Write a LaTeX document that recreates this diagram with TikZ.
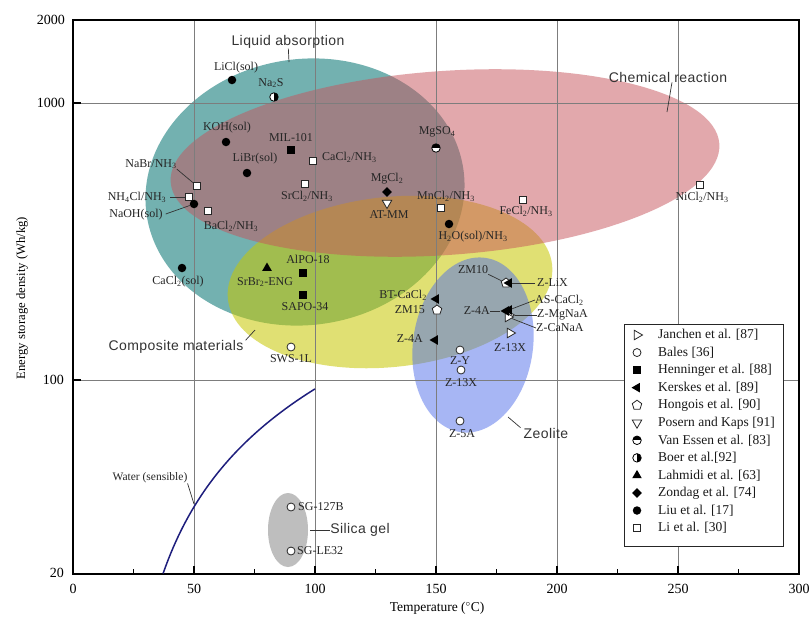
\documentclass[tikz,border=0pt]{standalone}
\usepackage{fontspec}
\setmainfont{Liberation Serif}
\newfontfamily\regfont{Liberation Sans}[LetterSpace=3.0]
\usetikzlibrary{shapes.geometric}
\newcommand{\sbs}[1]{\textsubscript{#1}}
\definecolor{tealc}{RGB}{30,130,128}
\definecolor{pinkc}{RGB}{199,83,91}
\definecolor{yellc}{RGB}{200,200,0}
\definecolor{bluec}{RGB}{80,110,235}
\definecolor{grayc}{RGB}{190,190,190}
\definecolor{navyc}{RGB}{30,30,125}
\definecolor{gridc}{RGB}{125,125,125}
\begin{document}
\begin{tikzpicture}[x=1pt,y=-1pt,
 lbl/.style={font=\fontsize{12}{13}\selectfont, inner sep=0pt, text=black!85},
 reg/.style={font=\regfont\fontsize{14}{15}\selectfont, inner sep=0pt, text=black!80},
 leg/.style={font=\fontsize{13.5}{14}\selectfont, inner sep=0pt, anchor=west, text=black!90},
 tick/.style={font=\fontsize{14}{15}\selectfont, inner sep=0pt},
 lead/.style={draw=black!80, line width=0.7pt},
 fc/.style={circle, fill=black, minimum size=8.5pt, inner sep=0pt},
 oc/.style={circle, draw=black!85, fill=white, line width=0.8pt, minimum size=8pt, inner sep=0pt},
 fsq/.style={rectangle, fill=black, minimum size=7.5pt, inner sep=0pt},
 osq/.style={rectangle, draw=black!85, fill=white, line width=0.8pt, minimum size=7pt, inner sep=0pt},
 ftri/.style={regular polygon, regular polygon sides=3, fill=black, minimum size=11pt, inner sep=0pt},
 fltri/.style={ftri, shape border rotate=90},
 ortri/.style={regular polygon, regular polygon sides=3, draw=black!85, fill=white, line width=0.8pt, minimum size=11pt, inner sep=0pt, shape border rotate=-90},
 odtri/.style={regular polygon, regular polygon sides=3, draw=black!85, fill=white, line width=0.8pt, minimum size=11pt, inner sep=0pt, shape border rotate=180},
 fdia/.style={diamond, fill=black, minimum size=10pt, inner sep=0pt},
 opent/.style={regular polygon, regular polygon sides=5, draw=black!85, fill=white, line width=0.8pt, minimum size=10pt, inner sep=0pt},
 boer/.style={circle, draw=black, fill=white, line width=0.8pt, minimum size=8.5pt, inner sep=0pt,
   path picture={\fill[black] (path picture bounding box.north) rectangle (path picture bounding box.south east);}},
 vess/.style={circle, draw=black, fill=white, line width=0.8pt, minimum size=8.5pt, inner sep=0pt,
   path picture={\fill[black] (path picture bounding box.north west) rectangle (path picture bounding box.east);}}
]
\useasboundingbox (0,0) rectangle (811,616);
\fill[white] (0,0) rectangle (811,616);

% regions
\fill[tealc, fill opacity=0.62, rotate around={8:(305,192)}] (305,192) ellipse [x radius=160pt, y radius=133pt];
\fill[yellc, fill opacity=0.55, rotate around={6:(390,282)}] (390,282) ellipse [x radius=163pt, y radius=85pt];
\fill[pinkc, fill opacity=0.5, rotate around={4:(445,163)}] (445,163) ellipse [x radius=275pt, y radius=92pt];
\fill[bluec, fill opacity=0.5, rotate around={-8:(473,345)}] (473,345) ellipse [x radius=60pt, y radius=88pt];
\fill[grayc] (288,530) ellipse [x radius=20pt, y radius=37pt];

% grid
\foreach \gx in {194,315,436,557,678} \draw[gridc, line width=0.7pt] (\gx,20) -- (\gx,574);
\foreach \gy in {103,380} \draw[gridc, line width=0.7pt] (73,\gy) -- (799,\gy);

% ticks
\foreach \tx in {133.5,254.5,375.5,496.5,617.5,738.5} \draw[line width=1.2pt] (\tx,574) -- (\tx,569);
\foreach \tx in {194,315,436,557,678} \draw[line width=1.4pt] (\tx,574) -- (\tx,566);
\foreach \ty in {103,380} \draw[line width=1.4pt] (73,\ty) -- (81,\ty);
\draw[line width=1.4pt] (73,20) rectangle (799,574);

% tick labels
\node[tick] (x0) at (73,589) {0};
\node[tick] (x50) at (194,589) {50};
\node[tick] (x100) at (315,589) {100};
\node[tick] (x150) at (436,589) {150};
\node[tick] (x200) at (557,589) {200};
\node[tick] (x250) at (678,589) {250};
\node[tick] (x300) at (799,589) {300};
\node[tick, anchor=east] (y2000) at (65,20) {2000};
\node[tick, anchor=east] (y1000) at (65,103) {1000};
\node[tick, anchor=east] (y100) at (64,380) {100};
\node[tick, anchor=east] (y20) at (64,573) {20};
\node[font=\fontsize{12.7}{13}\selectfont, rotate=90, inner sep=0pt] (ylab) at (22,298) {Energy storage density (Wh/kg)};
\node[font=\fontsize{13.5}{14}\selectfont, inner sep=0pt] (xlab) at (437,608) {Temperature ($^{\circ}$C)};

% water sensible curve
\draw[navyc, line width=1.5pt] plot[domain=37.23:100, samples=60] ({73+2.42*\x}, {380-277*log10(1.161*(\x-20)/100)});

% region labels
\node[reg] (rLiq) at (288,42) {Liquid absorption};
\coordinate (cLiq) at (289,62);
\draw[lead] (rLiq) -- (cLiq);
\node[reg] (rChem) at (668,77) {Chemical reaction};
\coordinate (cChem) at (667,112);
\draw[lead] ([xshift=4pt]rChem.south) -- (cChem);
\node[reg] (rComp) at (176,347) {Composite materials};
\coordinate (cComp) at (255,330);
\draw[lead] ([xshift=2pt]rComp.north east) -- (cComp);
\node[reg] (rZeo) at (546,433) {Zeolite};
\coordinate (cZeo) at (508,417);
\draw[lead] ([xshift=-3pt]rZeo.north west) -- (cZeo);
\node[reg] (rSil) at (360,530) {Silica gel};
\coordinate (cSil) at (310,530);
\draw[lead] (rSil.west) -- (cSil);
\node[lbl, font=\fontsize{11.5}{12}\selectfont] (rWat) at (150,478) {Water (sensible)};
\coordinate (cWat) at (194,504);
\draw[lead] (rWat.south east) -- (cWat);

% data points
\node[fc] (mLiCl) at (232,80) {};
\node[lbl] (tLiCl) at (236,68) {LiCl(sol)};
\node[boer] (mNaS) at (274,97) {};
\node[lbl] (tNaS) at (271,83) {Na\sbs{2}S};
\node[fc] (mKOH) at (226,142) {};
\node[lbl] (tKOH) at (227,128) {KOH(sol)};
\node[fsq] (mMIL) at (291,150) {};
\node[lbl] (tMIL) at (291,138) {MIL-101};
\node[fc] (mLiBr) at (247,173) {};
\node[lbl] (tLiBr) at (255,159) {LiBr(sol)};
\node[osq] (mCaN) at (313,161) {};
\node[lbl, anchor=west] (tCaN) at (322,157) {CaCl\sbs{2}/NH\sbs{3}};
\node[osq] (mNaBr) at (197,186) {};
\node[lbl] (tNaBr) at (151,164) {NaBr/NH\sbs{3}};
\draw[lead] (tNaBr.south east) -- (mNaBr);
\node[osq] (mNH4) at (189,197) {};
\node[lbl] (tNH4) at (137,197) {NH\sbs{4}Cl/NH\sbs{3}};
\draw[lead, shorten <=4pt] (tNH4.east) -- (mNH4);
\node[fc] (mNaOH) at (194,204) {};
\node[lbl] (tNaOH) at (136,215) {NaOH(sol)};
\draw[lead, shorten <=3pt] (tNaOH.east) -- (mNaOH);
\node[osq] (mBa) at (208,211) {};
\node[lbl] (tBa) at (231,226) {BaCl\sbs{2}/NH\sbs{3}};
\node[osq] (mSr) at (305,184) {};
\node[lbl] (tSr) at (307,196) {SrCl\sbs{2}/NH\sbs{3}};
\node[fdia] (mMg) at (387,192) {};
\node[lbl] (tMg) at (387,179) {MgCl\sbs{2}};
\node[odtri] (mAT) at (387,203) {};
\node[lbl] (tAT) at (389,215) {AT-MM};
\node[osq] (mMn) at (441,208) {};
\node[lbl] (tMn) at (446,196) {MnCl\sbs{2}/NH\sbs{3}};
\node[osq] (mFe) at (523,200) {};
\node[lbl] (tFe) at (526,211) {FeCl\sbs{2}/NH\sbs{3}};
\node[osq] (mNi) at (700,185) {};
\node[lbl] (tNi) at (702,197) {NiCl\sbs{2}/NH\sbs{3}};
\node[vess] (mMgSO) at (436,148) {};
\node[lbl] (tMgSO) at (437,132) {MgSO\sbs{4}};
\node[fc] (mH2O) at (449,224) {};
\node[lbl] (tH2O) at (473,237) {H\sbs{2}O(sol)/NH\sbs{3}};
\node[fc] (mCaS) at (182,268) {};
\node[lbl] (tCaS) at (178,282) {CaCl\sbs{2}(sol)};
\node[ftri] (mSrBr) at (267,268) {};
\node[lbl] (tSrBr) at (265,282) {SrBr\sbs{2}-ENG};
\node[fsq] (mAl) at (303,273) {};
\node[lbl] (tAl) at (308,259) {AlPO-18};
\node[fsq] (mSAPO) at (303,295) {};
\node[lbl] (tSAPO) at (305,307) {SAPO-34};
\node[oc] (mSWS) at (291,347) {};
\node[lbl] (tSWS) at (291,359) {SWS-1L};
\node[fltri] (mBT) at (436,299) {};
\node[lbl, anchor=east] (tBT) at (427,295) {BT-CaCl\sbs{2}};
\node[opent] (mZM15) at (437,310) {};
\node[lbl, anchor=east] (tZM15) at (425,310) {ZM15};
\node[fltri] (mZ4Aa) at (435,340) {};
\node[lbl, anchor=east] (tZ4Aa) at (423,339) {Z-4A};
\node[opent] (mZM10) at (506,283) {};
\node[lbl] (tZM10) at (473,270) {ZM10};
\draw[lead] (tZM10.south east) -- (mZM10);
\node[fltri] (mLiX) at (509,283) {};
\node[lbl, anchor=west] (tLiX) at (537,283) {Z-LiX};
\draw[lead, shorten <=2pt] (tLiX.west) -- (mLiX);
\node[ortri] (mMgNa) at (509,315) {};
\node[ortri] (mCaNa) at (508,317) {};
\node[fltri] (mAS) at (509,310) {};
\node[fltri] (mZ4Ab) at (506,311) {};
\node[lbl, anchor=west] (tAS) at (535,300) {AS-CaCl\sbs{2}};
\node[lbl, anchor=west] (tMgNa) at (537,315) {Z-MgNaA};
\node[lbl, anchor=west] (tCaNa) at (536,328) {Z-CaNaA};
\node[lbl, anchor=east] (tZ4Ab) at (490,311) {Z-4A};
\draw[lead] (tAS.west) -- (mAS);
\draw[lead] (tMgNa.west) -- (mMgNa);
\draw[lead] (tCaNa.west) -- (mCaNa);
\draw[lead] (tZ4Ab.east) -- (mZ4Ab);
\node[ortri] (mZ13a) at (510,333) {};
\node[lbl] (tZ13a) at (510,348) {Z-13X};
\node[oc] (mZY) at (460,350) {};
\node[lbl] (tZY) at (460,361) {Z-Y};
\node[oc] (mZ13b) at (461,370) {};
\node[lbl] (tZ13b) at (461,383) {Z-13X};
\node[oc] (mZ5A) at (460,421) {};
\node[lbl] (tZ5A) at (462,434) {Z-5A};
\node[oc] (mSG1) at (291,507) {};
\node[lbl, anchor=west] (tSG1) at (298,507) {SG-127B};
\node[oc] (mSG2) at (291,551) {};
\node[lbl, anchor=west] (tSG2) at (297,551) {SG-LE32};

% legend
\draw[fill=white, draw=black!85, line width=0.9pt] (624,324) rectangle (783,546);
\node[ortri] (lm0) at (637,335) {};
\node[leg] (lt0) at (658,335) {Janchen et al. [87]};
\node[oc] (lm1) at (637,352.55) {};
\node[leg] (lt1) at (658,352.55) {Bales [36]};
\node[fsq] (lm2) at (637,370.1) {};
\node[leg] (lt2) at (658,370.1) {Henninger et al. [88]};
\node[fltri] (lm3) at (637,387.65) {};
\node[leg] (lt3) at (658,387.65) {Kerskes et al. [89]};
\node[opent] (lm4) at (637,405.2) {};
\node[leg] (lt4) at (658,405.2) {Hongois et al. [90]};
\node[odtri] (lm5) at (637,422.75) {};
\node[leg] (lt5) at (658,422.75) {Posern and Kaps [91]};
\node[vess] (lm6) at (637,440.3) {};
\node[leg] (lt6) at (658,440.3) {Van Essen et al. [83]};
\node[boer] (lm7) at (637,457.85) {};
\node[leg] (lt7) at (658,457.85) {Boer et al.[92]};
\node[ftri] (lm8) at (637,475.4) {};
\node[leg] (lt8) at (658,475.4) {Lahmidi et al. [63]};
\node[fdia] (lm9) at (637,492.95) {};
\node[leg] (lt9) at (658,492.95) {Zondag et al. [74]};
\node[fc] (lm10) at (637,510.5) {};
\node[leg] (lt10) at (658,510.5) {Liu et al. [17]};
\node[osq] (lm11) at (637,528.05) {};
\node[leg] (lt11) at (658,528.05) {Li et al. [30]};
\end{tikzpicture}
\end{document}
